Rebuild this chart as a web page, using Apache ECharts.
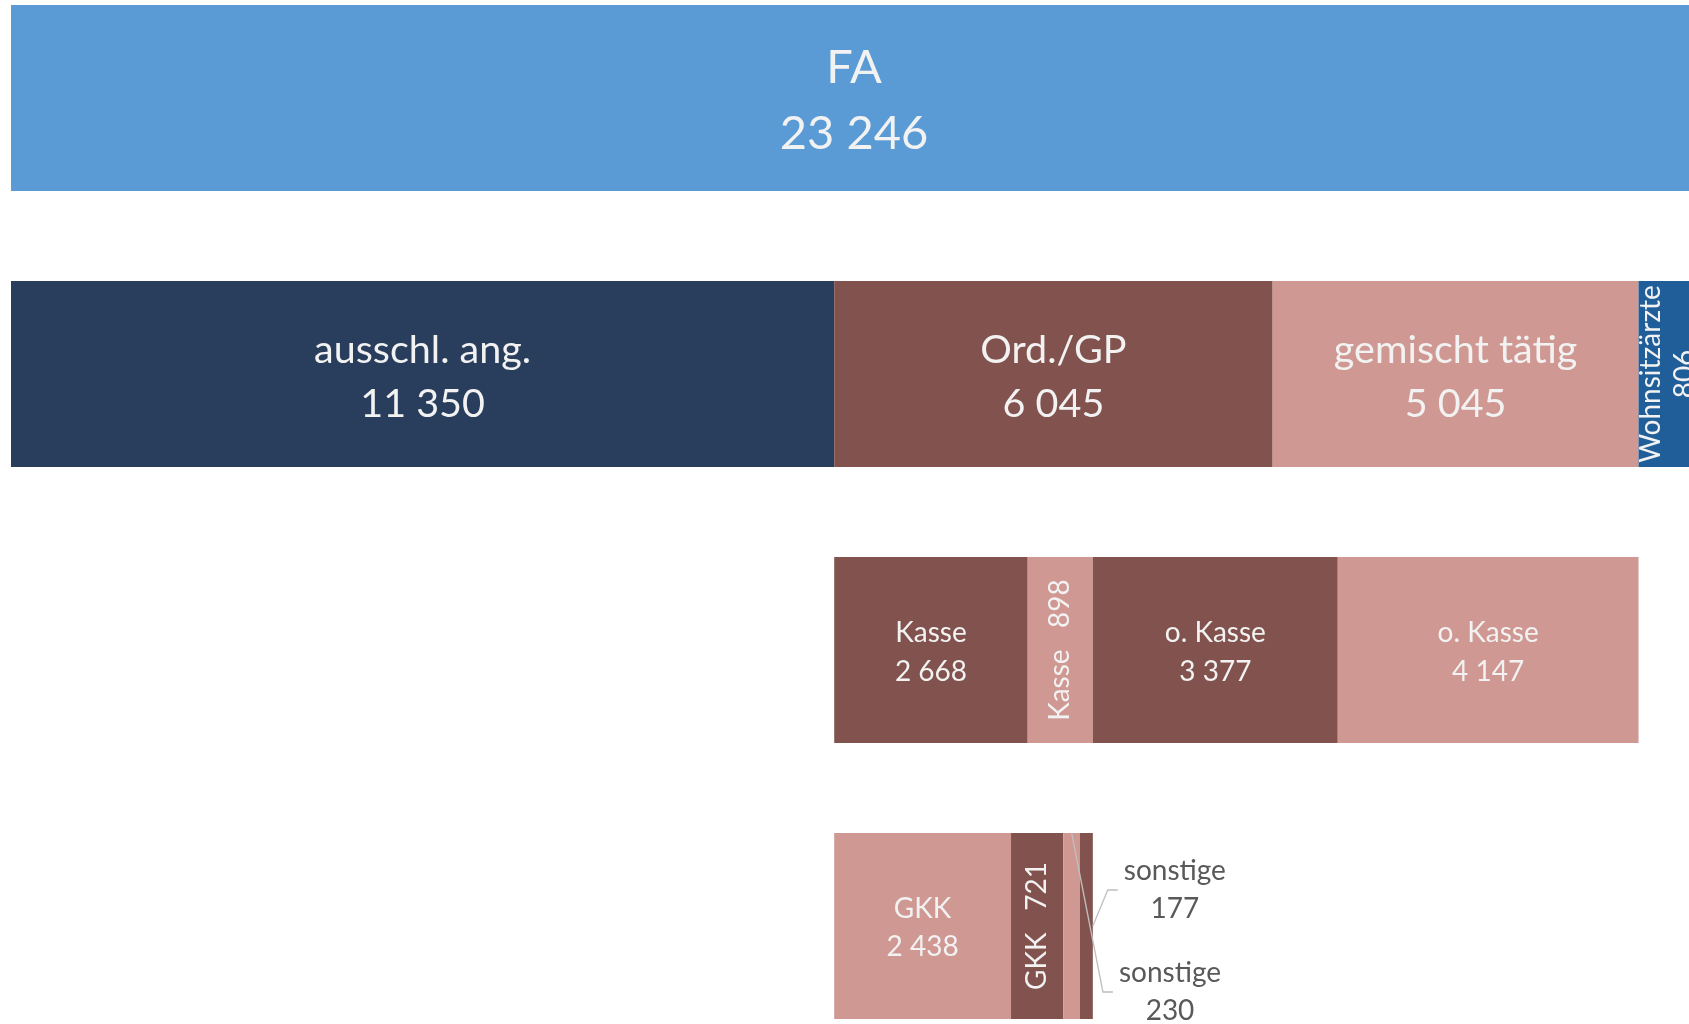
<!DOCTYPE html>
<html>
<head>
<meta charset="utf-8">
<title>FA</title>
<script src="https://cdn.jsdelivr.net/npm/echarts@6/dist/echarts.min.js"></script>
<style>
html, body { margin: 0; padding: 0; background: #ffffff; }
#box { width: 1689px; height: 1024px; }
</style>
</head>
<body>
<div id="box"></div>
<script>
// Zeilen (von oben nach unten)
var rows = ['FA', 'Tätigkeit', 'Kasse', 'Träger'];

var faNames = ['FA'];
var faValues = [23246];

var typeNames = ['ausschl. ang.', 'Ord./GP', 'gemischt tätig', 'Wohnsitzärzte'];
var typeValues = [11350, 6045, 5045, 806];

var kasseNames = ['Kasse', 'Kasse', 'o. Kasse', 'o. Kasse'];
var kasseValues = [2668, 898, 3377, 4147];

var traegerNames = ['GKK', 'GKK', 'sonstige', 'sonstige'];
var traegerValues = [2438, 721, 230, 177];

// unsichtbarer Abstand vor Zeile 3 und 4
var offsetValues = [0, 0, 11350, 11350];

// Farben
var blue = '#5B9BD5';
var navy = '#293D5C';
var brown = '#82534E';
var pink = '#CF9893';
var steel = '#1F5E99';

// Führungslinien der Außenbeschriftungen
var guides = {};

function fmt(v) {
    return String(v).replace(/\B(?=(\d{3})+(?!\d))/g, ' ');
}

var series = [{
    name: 'offset',
    type: 'bar',
    stack: 'all',
    barWidth: 186,
    silent: true,
    itemStyle: { color: 'transparent' },
    data: offsetValues
}];

function addRow(rowIdx, names, values, colors, opts) {
    for (let i = 0; i < names.length; i++) {
        let data = rows.map(function (r, k) {
            return k === rowIdx ? values[i] : '-';
        });
        let o = opts[i] || {};
        let key = rowIdx + '_' + i;
        let text = o.rotate ? names[i] + o.sep + fmt(values[i]) : names[i] + '\n' + fmt(values[i]);
        let s = {
            name: names[i] + ' ' + rowIdx,
            type: 'bar',
            stack: 'all',
            barWidth: 186,
            data: data,
            itemStyle: { color: colors[i] },
            label: {
                show: true,
                position: 'inside',
                formatter: function () { return text; },
                color: o.color || '#F2F2F2',
                fontFamily: 'Lato',
                fontSize: o.size,
                lineHeight: o.line,
                offset: o.offset || [0, 0],
                rotate: o.rotate || 0
            }
        };
        if (o.outside) {
            s.labelLayout = function (p) {
                var r = p.rect;
                var lr = p.labelRect || p.label;
                var cx = r.x + r.width + o.dx;
                var cy = r.y + o.dy;
                var left = cx - lr.width / 2;
                var anchor = o.top ? [r.x + r.width / 2, r.y] : [r.x + r.width, r.y + r.height / 2];
                guides[key] = [anchor, [left - 16, cy], [left - 6, cy]];
                return {
                    x: cx,
                    y: cy,
                    align: 'center',
                    verticalAlign: 'middle'
                };
            };
        }
        series.push(s);
    }
}

addRow(0, faNames, faValues, [blue], [{ size: 47, line: 66, offset: [0, 3] }]);
addRow(1, typeNames, typeValues, [navy, brown, pink, steel], [
    { size: 39.5, line: 54, offset: [0, 3] },
    { size: 39.5, line: 54, offset: [0, 3] },
    { size: 39.5, line: 54, offset: [0, 3] },
    { size: 28, line: 34, rotate: 90, sep: '\n' }
]);
addRow(2, kasseNames, kasseValues, [brown, pink, brown, pink], [
    { size: 28, line: 39, offset: [0, 2] },
    { size: 28, line: 39, rotate: 90, sep: '   ' },
    { size: 28, line: 39, offset: [0, 2] },
    { size: 28, line: 39, offset: [0, 2] }
]);
addRow(3, traegerNames, traegerValues, [pink, brown, pink, brown], [
    { size: 28, line: 38, offset: [0, 2] },
    { size: 28, line: 38, rotate: 90, sep: '   ' },
    { size: 28, line: 38, color: '#595959', outside: true, top: true, dx: 90, dy: 159 },
    { size: 28, line: 38, color: '#595959', outside: true, dx: 82, dy: 57 }
]);

var myChart = echarts.init(document.getElementById('box'));
var option = {
    backgroundColor: '#ffffff',
    animation: false,
    grid: {
        left: 11,
        right: -8,
        top: -40,
        bottom: -40,
        outerBoundsMode: 'none'
    },
    xAxis: {
        type: 'value',
        min: 0,
        max: 23246,
        show: false
    },
    yAxis: {
        type: 'category',
        data: rows,
        inverse: true,
        show: false
    },
    series: series
};
myChart.setOption(option);

// Linien nach dem Layout der Beschriftungen zeichnen
var lines = [];
for (var k in guides) {
    lines.push({
        type: 'polyline',
        silent: true,
        z: 100,
        shape: { points: guides[k] },
        style: { stroke: '#BFBFBF', lineWidth: 1.3, fill: null }
    });
}
myChart.setOption({ graphic: lines });
</script>
</body>
</html>
